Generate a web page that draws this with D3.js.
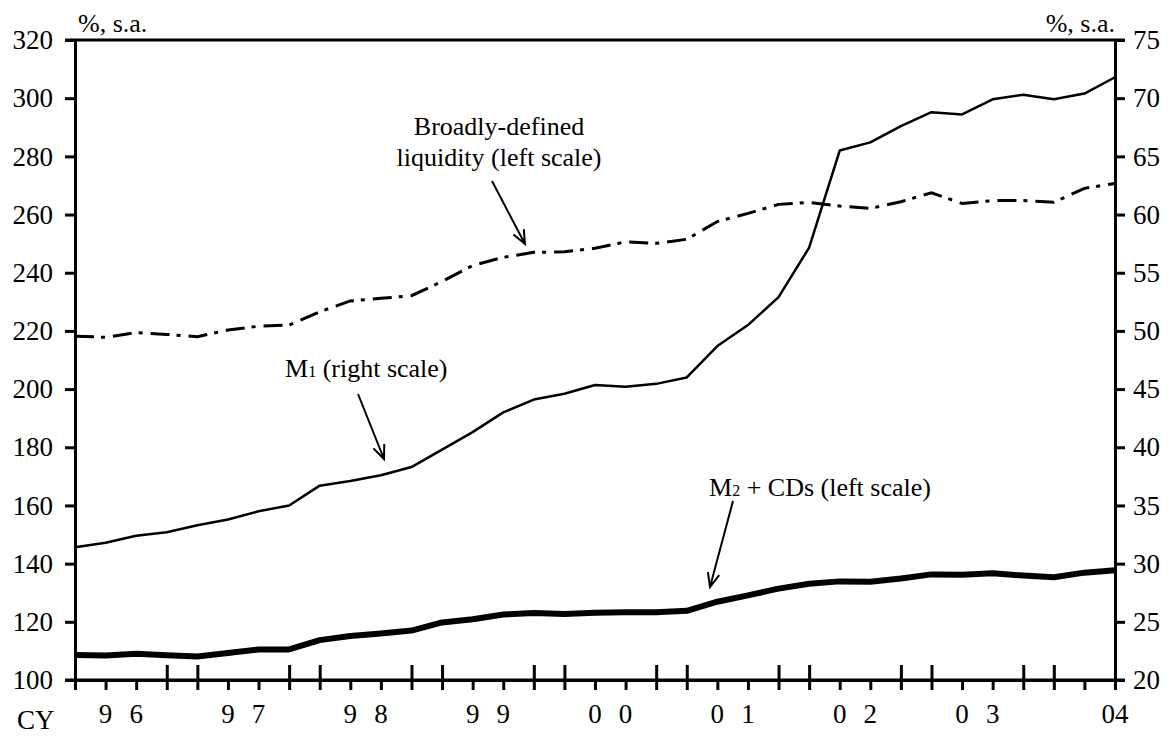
<!DOCTYPE html>
<html>
<head>
<meta charset="utf-8">
<script src="https://cdn.jsdelivr.net/npm/d3@7"></script>
<style>
  html, body { margin: 0; padding: 0; background: #fff; }
  svg, svg text { font-family: "Liberation Serif", "Times New Roman", Times, "DejaVu Serif", serif !important; }
</style>
</head>
<body>
<div id="chart"></div>
<script>
// quarters 1996 Q1 .. 2004 Q3
const quarters = ["96Q1","96Q2","96Q3","96Q4","97Q1","97Q2","97Q3","97Q4","98Q1","98Q2","98Q3","98Q4",
  "99Q1","99Q2","99Q3","99Q4","00Q1","00Q2","00Q3","00Q4","01Q1","01Q2","01Q3","01Q4",
  "02Q1","02Q2","02Q3","02Q4","03Q1","03Q2","03Q3","03Q4","04Q1","04Q2","04Q3"];

// x tick labels (one character per quarter, as in the original)
const xTickLabels = ["","9","6","","","9","7","","","9","8","","","9","9","","","0","0","",
  "","0","1","","","0","2","","","0","3","","","","04"];

// Broadly-defined liquidity, left scale
const liquidity = [218.2, 217.8, 219.4, 218.8, 218.0, 220.3, 221.6, 222.0, 226.6, 230.3, 231.2, 232.1,
  237.0, 242.5, 245.3, 247.0, 247.2, 248.4, 250.6, 250.1, 251.5, 257.6, 260.4, 263.5,
  264.2, 262.9, 262.1, 264.4, 267.5, 263.8, 264.8, 264.8, 264.2, 269.0, 270.7];

// M1, right scale
const m1 = [31.4, 31.8, 32.4, 32.7, 33.3, 33.8, 34.5, 35.0, 36.7, 37.1, 37.6, 38.3,
  39.8, 41.3, 43.0, 44.1, 44.6, 45.35, 45.2, 45.45, 46.0, 48.7, 50.5, 52.9,
  57.15, 65.5, 66.2, 67.6, 68.8, 68.6, 69.9, 70.3, 69.9, 70.4, 71.8];

// M2 + CDs, left scale
const m2cds = [108.6, 108.4, 109.0, 108.5, 108.1, 109.3, 110.5, 110.5, 113.7, 115.1, 116.0, 117.0,
  119.8, 120.9, 122.5, 123.0, 122.7, 123.1, 123.3, 123.3, 123.8, 126.9, 129.1, 131.4,
  133.1, 133.9, 133.8, 134.9, 136.3, 136.2, 136.7, 135.9, 135.3, 136.9, 137.7];

const leftTicks = [100, 120, 140, 160, 180, 200, 220, 240, 260, 280, 300, 320];
const rightTicks = [20, 25, 30, 35, 40, 45, 50, 55, 60, 65, 70, 75];

const width = 1170, height = 740;
const plot = { left: 75, right: 1115, top: 40, bottom: 680 };
const serif = "'Liberation Serif', 'Times New Roman', Times, 'DejaVu Serif', serif";

const svg = d3.select("#chart").append("svg")
  .attr("width", width)
  .attr("height", height)
  .attr("font-family", serif);

const x = d3.scalePoint().domain(quarters).range([plot.left, plot.right]);
const yLeft = d3.scaleLinear().domain([100, 320]).range([plot.bottom, plot.top]);
const yRight = d3.scaleLinear().domain([20, 75]).range([plot.bottom, plot.top]);

// left axis
const gLeft = svg.append("g")
  .attr("transform", `translate(${plot.left},0)`)
  .call(d3.axisLeft(yLeft).tickValues(leftTicks).tickSize(10).tickSizeOuter(0).tickPadding(12));

// right axis
const gRight = svg.append("g")
  .attr("transform", `translate(${plot.right},0)`)
  .call(d3.axisRight(yRight).tickValues(rightTicks).tickSize(10).tickSizeOuter(0).tickPadding(8));

[gLeft, gRight].forEach(g => {
  g.attr("font-family", serif).attr("font-size", 27);
  g.selectAll("path.domain").attr("stroke", "#000").attr("stroke-width", 3);
  g.selectAll(".tick line").attr("stroke", "#000").attr("stroke-width", 3);
  g.selectAll(".tick text").attr("fill", "#000");
});

// top frame line
svg.append("line")
  .attr("x1", plot.left - 10).attr("x2", plot.right + 10)
  .attr("y1", plot.top).attr("y2", plot.top)
  .attr("stroke", "#000").attr("stroke-width", 3);

// bottom axis: short ticks every quarter, tall pair at each year change
const gBottom = svg.append("g")
  .attr("transform", `translate(0,${plot.bottom})`)
  .call(d3.axisBottom(x).tickSize(10).tickSizeOuter(0).tickFormat(""));
gBottom.select("path.domain").attr("stroke", "#000").attr("stroke-width", 3);
gBottom.selectAll(".tick line")
  .attr("stroke", "#000").attr("stroke-width", 3)
  .attr("y1", (d, i) => (i % 4 === 3 || (i % 4 === 0 && i > 0 && i < quarters.length - 1)) ? -15 : 0);
svg.append("line")
  .attr("x1", plot.left - 10).attr("x2", plot.right + 10)
  .attr("y1", plot.bottom).attr("y2", plot.bottom)
  .attr("stroke", "#000").attr("stroke-width", 3);

// x tick labels
svg.append("g").attr("font-size", 27).selectAll("text")
  .data(quarters)
  .enter()
  .append("text")
  .attr("x", d => x(d))
  .attr("y", 723)
  .attr("text-anchor", "middle")
  .text((d, i) => xTickLabels[i]);

svg.append("text")
  .attr("x", 17).attr("y", 729)
  .attr("font-size", 27)
  .text("CY");

// unit labels
svg.append("text").attr("x", 78).attr("y", 32).attr("font-size", 26).text("%, s.a.");
svg.append("text").attr("x", plot.right).attr("y", 32).attr("text-anchor", "end")
  .attr("font-size", 26).text("%, s.a.");

// lines
const lineLeft = d3.line().x((d, i) => x(quarters[i])).y(d => yLeft(d));
const lineRight = d3.line().x((d, i) => x(quarters[i])).y(d => yRight(d));

svg.append("path")
  .datum(liquidity)
  .attr("d", lineLeft)
  .attr("fill", "none")
  .attr("stroke", "#000")
  .attr("stroke-width", 3)
  .attr("stroke-dasharray", "19,7,4,8");

svg.append("path")
  .datum(m1)
  .attr("d", lineRight)
  .attr("fill", "none")
  .attr("stroke", "#000")
  .attr("stroke-width", 2.5)
  .attr("stroke-linejoin", "round");

svg.append("path")
  .datum(m2cds)
  .attr("d", lineLeft)
  .attr("fill", "none")
  .attr("stroke", "#000")
  .attr("stroke-width", 6)
  .attr("stroke-linejoin", "round");

// annotations
function arrow(x1, y1, x2, y2) {
  const a = Math.atan2(y2 - y1, x2 - x1);
  const len = 15, spread = 0.4;
  const p = d3.path();
  p.moveTo(x1, y1); p.lineTo(x2, y2);
  p.moveTo(x2 - len * Math.cos(a - spread), y2 - len * Math.sin(a - spread));
  p.lineTo(x2, y2);
  p.lineTo(x2 - len * Math.cos(a + spread), y2 - len * Math.sin(a + spread));
  svg.append("path").attr("d", p.toString())
    .attr("fill", "none").attr("stroke", "#000").attr("stroke-width", 2);
}

const ann = svg.append("g").attr("font-size", 26);
ann.append("text").attr("x", 499).attr("y", 135).attr("text-anchor", "middle").text("Broadly-defined");
ann.append("text").attr("x", 499).attr("y", 166).attr("text-anchor", "middle").text("liquidity (left scale)");
arrow(492, 181, 525, 244);

const t1 = ann.append("text").attr("x", 285).attr("y", 377);
t1.append("tspan").text("M");
t1.append("tspan").attr("font-size", 16).text("1");
t1.append("tspan").text(" (right scale)");
arrow(358, 394, 384, 459);

const t2 = ann.append("text").attr("x", 709).attr("y", 496);
t2.append("tspan").text("M");
t2.append("tspan").attr("font-size", 16).text("2");
t2.append("tspan").text(" + CDs (left scale)");
arrow(733, 501, 710, 587);
</script>
</body>
</html>
